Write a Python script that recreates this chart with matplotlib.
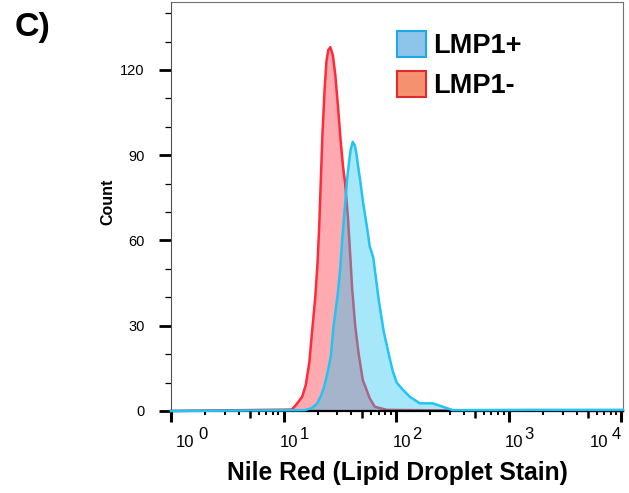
import matplotlib
matplotlib.use('Agg')
import matplotlib.pyplot as plt
from matplotlib.patches import Patch
from matplotlib.ticker import FixedLocator, MultipleLocator, NullFormatter

plt.rcParams['font.family'] = ['Liberation Sans', 'DejaVu Sans']

# ---- data ----
neg_intensity = [1.0, 11.8, 12.8, 14.6, 15.7, 16.9, 17.9, 19.1, 20.0, 20.7, 21.3,
                 22.1, 23.1, 24.0, 24.9, 26.0, 27.4, 28.8, 30.4, 32.1, 33.7, 35.2,
                 37.3, 39.0, 40.6, 43.2, 46.4, 50.4, 58.1, 64.4, 82.4, 150, 280, 10300]
neg_count = [0, 0.5, 2, 5, 9, 17, 28, 40, 52, 65, 79,
             97, 113, 123, 127, 128, 125, 118, 107, 95, 86, 80,
             68, 55, 43, 30, 20, 11, 4.5, 1.5, 0.4, 0.3, 0.2, 0]

pos_intensity = [1.0, 15.4, 17.7, 19.7, 21.3, 22.7, 24.4, 26.2, 27.8, 30.2, 31.8,
                 33.4, 35.2, 36.7, 38.2, 39.4, 41.1, 42.8, 44.1, 45.9, 47.9, 50.9,
                 55.3, 58.1, 62.5, 66.4, 69.9, 73.9, 77.4, 85.8, 93.1, 101, 115,
                 132, 162, 211, 259, 318, 1500, 10300]
pos_count = [0, 0.3, 1, 2.5, 5, 8, 13, 19, 30, 41, 50,
             62, 73, 82, 88, 92, 94.7, 93.5, 91, 86, 81, 73,
             64, 58, 54, 46, 39, 33, 28, 20, 14, 10, 7.4,
             5, 2.7, 2.7, 1.5, 0.3, 0.4, 0.4]

series_labels = ['LMP1+', 'LMP1-']
decades = [0, 1, 2, 3, 4]
y_major = [0, 30, 60, 90, 120]

red = '#ff2b3b'
blue = '#22c4f4'

fig = plt.figure(figsize=(6.29, 4.93), dpi=100)
ax = fig.add_axes([171 / 629, 82 / 493, 452 / 629, 409 / 493])
ax.set_xscale('log')
ax.set_xlim(1, 10 ** (4 + 1.5 / 112.5))
ax.set_ylim(0, 143.9)

ax.fill_between(neg_intensity, neg_count, 0, color=red, alpha=0.4, lw=0, zorder=2)
ax.plot(neg_intensity, neg_count, color=red, lw=1.8, zorder=2.1, clip_on=False)
ax.fill_between(pos_intensity, pos_count, 0, color=blue, alpha=0.4, lw=0, zorder=2.2)
ax.plot(pos_intensity, pos_count, color=blue, lw=1.8, zorder=3, clip_on=False)

# spines
for s in ['top', 'right']:
    ax.spines[s].set_color('#707070')
    ax.spines[s].set_linewidth(0.8)
ax.spines['left'].set_color('#505050')
ax.spines['left'].set_linewidth(0.8)
ax.spines['bottom'].set_color('black')
ax.spines['bottom'].set_linewidth(1.6)

# y ticks
ax.yaxis.set_major_locator(FixedLocator(y_major))
ax.yaxis.set_minor_locator(MultipleLocator(10))
ax.tick_params(axis='y', which='major', length=8.6, width=2.0, pad=10.5,
               labelsize=10.5, color='black')
ax.tick_params(axis='y', which='minor', length=4.3, width=0.9, color='black')

# x ticks
ax.xaxis.set_major_locator(FixedLocator([10 ** d for d in decades]))
minors = [m * 10 ** d for d in decades[:-1] for m in (2, 3, 4, 6, 7, 8, 9)]
ax.xaxis.set_minor_locator(FixedLocator(minors))
ax.xaxis.set_minor_formatter(NullFormatter())
ax.tick_params(axis='x', which='major', length=8.0, width=2.2, color='black',
               labelbottom=False)
ax.tick_params(axis='x', which='minor', length=2.7, width=1.4, color='black')

# medium ticks at 5 x 10^k
ax5 = ax.twiny()
ax5.set_xscale('log')
ax5.set_xlim(ax.get_xlim())
ax5.xaxis.set_ticks_position('bottom')
ax5.xaxis.set_major_locator(FixedLocator([5 * 10 ** d for d in decades[:-1]]))
ax5.xaxis.set_minor_locator(FixedLocator([]))
ax5.tick_params(axis='x', which='major', length=4.8, width=1.8, color='black',
                labelbottom=False, labeltop=False)
for s in ax5.spines.values():
    s.set_visible(False)

# x tick labels: "10" with a raised exponent
base_dx = [4.7, -4.1, -3.3, -4.1, -31.6]
exp_dx = [27.1, 15.9, 16.3, 15.4, -10.1]
for d, bx, ex in zip(decades, base_dx, exp_dx):
    ax.annotate('10', xy=(10 ** d, 0), xycoords=('data', 'axes fraction'),
                xytext=(bx * 0.72, -35.7 * 0.72), textcoords='offset points',
                ha='left', va='baseline', fontsize=12, annotation_clip=False)
    ax.annotate(str(d), xy=(10 ** d, 0), xycoords=('data', 'axes fraction'),
                xytext=(ex * 0.72, -27.7 * 0.72), textcoords='offset points',
                ha='left', va='baseline', fontsize=12, annotation_clip=False)

ax.set_xlabel('Nile Red (Lipid Droplet Stain)', fontsize=17.7, fontweight='bold',
              va='baseline')
ax.xaxis.set_label_coords(0.5, (411 - 480) / 409)
ax.set_ylabel('Count', fontsize=11.5, fontweight='bold', va='center')
ax.yaxis.set_label_coords((107.5 - 171) / 452, (411 - 202) / 409)

handles = [Patch(facecolor='#8ec4ea', edgecolor='#1da8e8', lw=1.5, label=series_labels[0]),
           Patch(facecolor='#f5916f', edgecolor='#de2b2b', lw=1.5, label=series_labels[1])]
ax.legend(handles=handles, loc='upper left', bbox_to_anchor=((397 - 171) / 452, (411 - 31) / 409),
          frameon=False, prop={'weight': 'bold', 'size': 19.5}, handlelength=1.07,
          handleheight=1.08, handletextpad=0.25, labelspacing=0.45, borderpad=0,
          borderaxespad=0)

fig.text(14.5 / 629, 1 - 36.3 / 493, 'C)', fontsize=24.5, fontweight='bold',
         ha='left', va='baseline')

fig.savefig('out.png', dpi=100)
